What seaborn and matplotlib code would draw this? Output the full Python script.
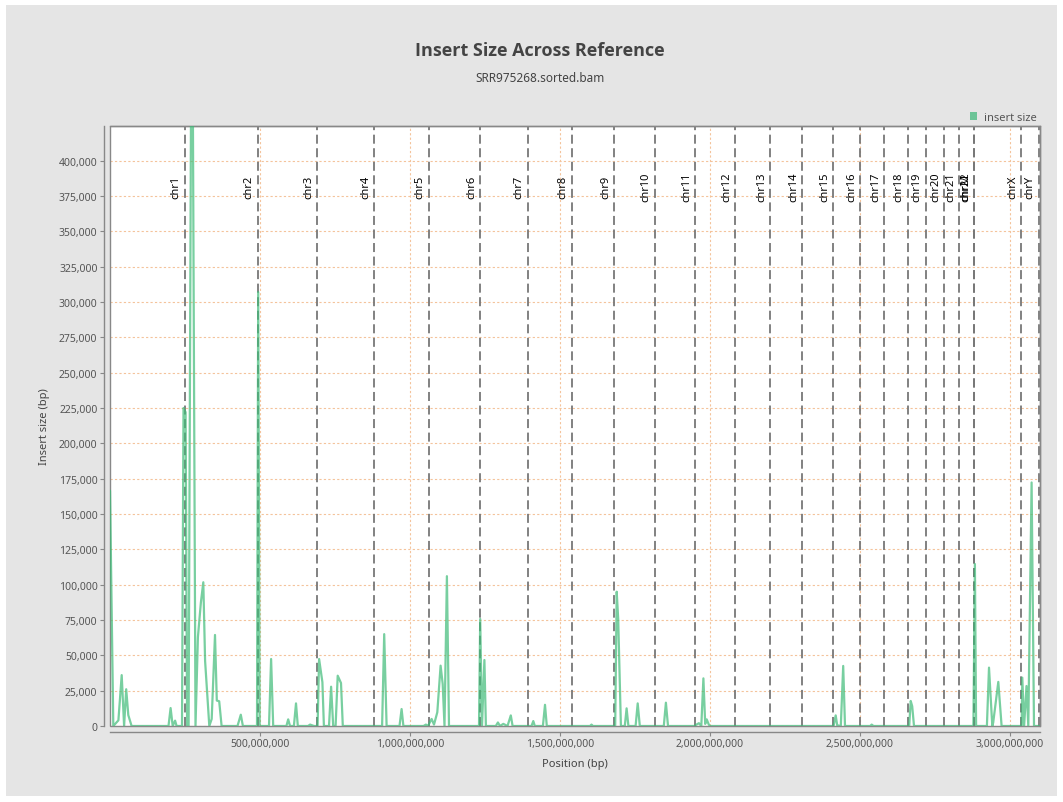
import matplotlib
matplotlib.use("Agg")
import matplotlib.pyplot as plt
from matplotlib.patches import Rectangle, Patch
from matplotlib.ticker import FuncFormatter, MultipleLocator
import matplotlib.transforms as mtransforms
import seaborn as sns
import pandas as pd

# chromosome names and ends (cumulative, Mbp)
chrom_names = ["chr1", "chr2", "chr3", "chr4", "chr5", "chr6", "chr7", "chr8", "chr9",
               "chr10", "chr11", "chr12", "chr13", "chr14", "chr15", "chr16", "chr17",
               "chr18", "chr19", "chr20", "chr21", "chr22", "chrM", "chrX", "chrY"]
chrom_ends = [249.25, 492.45, 690.47, 881.63, 1062.54, 1233.66, 1392.80, 1539.16,
              1680.37, 1815.91, 1950.91, 2084.77, 2199.94, 2307.28, 2409.82, 2500.17,
              2581.36, 2659.44, 2718.57, 2781.59, 2829.72, 2881.03, 2881.05, 3036.32,
              3095.69]

# insert size along the reference (position in Mbp, size in bp)
positions = [0, 11, 28, 39, 47, 54, 61, 72, 195, 202, 209, 217, 222, 240, 245, 252,
             257, 262, 273, 285, 293, 303, 311, 317, 331, 339, 350, 356, 364, 372,
             425, 436, 443, 490, 494, 499, 530, 537, 544, 588, 594, 600, 613, 620,
             626, 660, 667, 680, 692, 697, 708, 713, 730, 737, 744, 752, 759, 770,
             776, 907, 914, 922, 965, 972, 978, 1045, 1053, 1060, 1072, 1080, 1091,
             1102, 1109, 1115, 1123, 1130, 1230, 1234, 1240, 1248, 1253, 1286, 1293,
             1300, 1311, 1325, 1336, 1342, 1405, 1411, 1416, 1443, 1450, 1456, 1600,
             1605, 1610, 1684, 1689, 1694, 1703, 1716, 1722, 1728, 1752, 1759, 1766,
             1846, 1853, 1860, 1948, 1955, 1963, 1971, 1978, 1984, 1989, 1996, 2000,
             2412, 2419, 2424, 2436, 2444, 2450, 2534, 2539, 2545, 2664, 2669, 2674,
             2680, 2878, 2883, 2887, 2923, 2930, 2941, 2944, 2961, 2972, 3039, 3041,
             3047, 3055, 3061, 3072, 3080, 3096]
insert_sizes = [166500, 0, 4000, 36000, 0, 26000, 7700, 0, 0, 12700, 0, 3800, 0, 0,
                225000, 222000, 0, 0, 600000, 0, 62800, 87500, 101700, 46000, 0, 5000,
                64400, 18000, 17500, 0, 0, 8000, 0, 0, 307000, 0, 0, 47400, 0, 0, 4700,
                0, 0, 16000, 0, 0, 1000, 0, 0, 47400, 31000, 0, 0, 27800, 0, 0, 35600,
                30400, 0, 0, 65000, 0, 0, 12000, 0, 0, 1000, 0, 5000, 1000, 9700, 42700,
                29700, 0, 106000, 0, 0, 75700, 0, 46700, 0, 0, 2500, 0, 1500, 0, 7500,
                0, 0, 3500, 0, 0, 15000, 0, 0, 1000, 0, 0, 95000, 75700, 0, 0, 12500,
                0, 0, 16000, 0, 0, 16500, 0, 0, 1000, 2000, 0, 33700, 1500, 4700, 1000,
                0, 0, 7500, 500, 0, 42500, 0, 0, 1000, 0, 0, 17700, 14000, 0, 0,
                114600, 0, 0, 41300, 0, 2400, 31200, 0, 0, 34200, 0, 28300, 0, 172300,
                0, 0]

xtick_values = [500e6, 1000e6, 1500e6, 2000e6, 2500e6, 3000e6]

sns.set_theme(style="white")
plt.rcParams["font.family"] = ["Noto Sans", "DejaVu Sans"]

df = pd.DataFrame({"pos": [p * 1e6 for p in positions], "size": insert_sizes})

fig = plt.figure(figsize=(10.63, 8.03), dpi=100, facecolor="white")
fig.patches.append(Rectangle((6 / 1063, 6 / 803), 1051 / 1063, 791 / 803,
                             transform=fig.transFigure, facecolor="#e5e5e5",
                             edgecolor="none", zorder=-10))
ax = fig.add_axes([110 / 1063, 76 / 803, 930 / 1063, 600 / 803])
ax.set_facecolor("white")

# grid
for xv in xtick_values:
    ax.axvline(xv, color="#f4c39b", lw=0.8, ls=(0, (2, 2)), zorder=1)
for yv in range(0, 425001, 25000):
    ax.axhline(yv, color="#f4c39b", lw=0.8, ls=(0, (2, 2)), zorder=1)

# chromosome boundaries
lab_trans = mtransforms.offset_copy(ax.transData, fig=fig, x=-3, y=0, units="dots")
for name, end in zip(chrom_names, chrom_ends):
    ax.axvline(end * 1e6, color="#777777", lw=1.3, ls=(0, (5, 2.5)), zorder=2)
    ax.text(end * 1e6, 382000, name, rotation=90, ha="right", va="center",
            fontsize=8, color="black", transform=lab_trans, zorder=3)

ax.add_patch(Rectangle((0, 0), 1, 1, transform=ax.transAxes, fill=False,
                       edgecolor="#888888", lw=1, clip_on=False, zorder=3.5))
sns.lineplot(data=df, x="pos", y="size", estimator=None, sort=False, ax=ax,
             color="#3fbb78", alpha=0.7, lw=1.6, legend=False, zorder=4)

ax.set_xlim(0, 3.1e9)
ax.set_ylim(0, 424500)
ax.set_xticks(xtick_values)
ax.yaxis.set_major_locator(MultipleLocator(25000))
fmt = FuncFormatter(lambda v, p: f"{int(v):,}")
ax.xaxis.set_major_formatter(fmt)
ax.yaxis.set_major_formatter(fmt)
ax.tick_params(axis="both", labelsize=7.5, labelcolor="#555555", color="#888888",
               length=3, width=0.8, direction="out", bottom=True, left=True, pad=2)

for side in ["top", "right"]:
    ax.spines[side].set_color("#888888")
    ax.spines[side].set_linewidth(1)
for side in ["left", "bottom"]:
    ax.spines[side].set_position(("outward", 4))
    ax.spines[side].set_color("#888888")
    ax.spines[side].set_linewidth(1)

ax.set_xlabel("Position (bp)", fontsize=8, color="#444444", labelpad=6)
ax.set_ylabel("Insert size (bp)", fontsize=8, color="#444444", labelpad=6)

ax.legend(handles=[Patch(facecolor="#6cc497", edgecolor="none", label="insert size")],
          loc="lower right", bbox_to_anchor=(1.005, 0.992), frameon=False, fontsize=8,
          handlelength=0.7, handleheight=0.7, handletextpad=0.6, borderpad=0.2,
          labelcolor="#555555")

fig.text(540 / 1063, 1 - 51 / 803, "Insert Size Across Reference", ha="center",
         va="center", fontsize=13, fontweight="bold", color="#444444",
         family=["Open Sans", "DejaVu Sans"])
fig.text(540 / 1063, 1 - 78 / 803, "SRR975268.sorted.bam", ha="center",
         va="center", fontsize=8.5, color="#444444")

fig.savefig("out.png", dpi=100, facecolor=fig.get_facecolor())
